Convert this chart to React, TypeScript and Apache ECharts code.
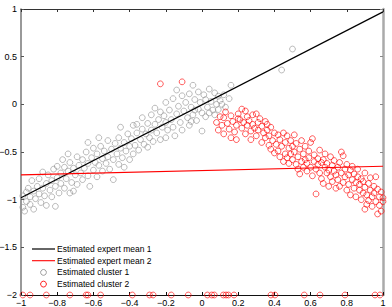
import React, { useEffect, useRef } from "react";
import * as echarts from "echarts";

const xTicks = [-1, -0.8, -0.6, -0.4, -0.2, 0, 0.2, 0.4, 0.6, 0.8, 1];
const yTicks = [-2, -1.5, -1, -0.5, 0, 0.5, 1];

const legendNames = [
  "Estimated expert mean 1",
  "Estimated expert mean 2",
  "Estimated cluster 1",
  "Estimated cluster 2",
];

const expertMean1: number[][] = [[-1, -0.98], [1, 0.97]];
const expertMean2: number[][] = [[-1, -0.74], [1, -0.65]];

const cluster1: number[][] = [
  [-0.99,-1.08],[-0.99,-0.96],[-0.98,-1.12],[-0.97,-0.92],[-0.97,-1.02],[-0.96,-0.88],[-0.95,-1.05],[-0.95,-0.97],[-0.94,-0.80],[-0.93,-0.91],
  [-0.93,-1.10],[-0.92,-0.99],[-0.91,-0.86],[-0.90,-0.94],[-0.90,-0.78],[-0.89,-1.03],[-0.88,-0.88],[-0.88,-0.71],[-0.87,-0.96],[-0.86,-0.83],
  [-0.86,-1.06],[-0.85,-0.74],[-0.84,-0.90],[-0.83,-0.80],[-0.83,-0.97],[-0.82,-0.68],[-0.81,-1.07],[-0.81,-0.86],[-0.80,-0.65],[-0.80,-0.77],
  [-0.79,-0.93],[-0.78,-0.72],[-0.78,-0.83],[-0.77,-0.58],[-0.76,-0.88],[-0.76,-0.66],[-0.75,-0.78],[-0.74,-0.70],[-0.74,-0.52],[-0.73,-0.93],
  [-0.73,-0.61],[-0.72,-0.82],[-0.71,-0.91],[-0.71,-0.67],[-0.70,-0.74],[-0.69,-0.55],[-0.69,-0.84],[-0.68,-0.64],[-0.67,-0.72],[-0.66,-0.79],
  [-0.66,-0.58],[-0.65,-0.67],[-0.64,-0.50],[-0.63,-0.75],[-0.63,-0.40],[-0.63,-0.62],[-0.62,-0.86],[-0.61,-0.56],[-0.60,-0.69],[-0.60,-0.46],
  [-0.59,-0.61],[-0.58,-0.76],[-0.58,-0.52],[-0.57,-0.64],[-0.57,-0.35],[-0.56,-0.44],[-0.55,-0.70],[-0.55,-0.57],[-0.54,-0.49],[-0.53,-0.62],
  [-0.52,-0.38],[-0.52,-0.55],[-0.51,-0.68],[-0.50,-0.47],[-0.49,-0.79],[-0.49,-0.58],[-0.48,-0.41],[-0.47,-0.52],[-0.46,-0.63],[-0.46,-0.35],
  [-0.45,-0.46],[-0.45,-0.24],[-0.44,-0.56],[-0.43,-0.40],[-0.43,-0.66],[-0.42,-0.49],[-0.41,-0.31],[-0.40,-0.44],[-0.40,-0.58],[-0.39,-0.36],
  [-0.38,-0.52],[-0.38,-0.22],[-0.37,-0.43],[-0.36,-0.30],[-0.36,-0.21],[-0.35,-0.48],[-0.34,-0.37],[-0.33,-0.26],[-0.33,-0.14],[-0.32,-0.42],
  [-0.31,-0.31],[-0.30,-0.20],[-0.30,-0.45],[-0.29,-0.35],[-0.28,-0.11],[-0.28,-0.27],[-0.27,-0.39],[-0.26,-0.04],[-0.26,-0.21],[-0.25,-0.30],
  [-0.24,-0.16],[-0.23,-0.08],[-0.23,-0.37],[-0.22,-0.24],[-0.21,-0.12],[-0.20,0.02],[-0.20,-0.35],[-0.20,-0.19],[-0.19,-0.27],[-0.18,-0.06],
  [-0.17,-0.16],[-0.16,0.06],[-0.16,-0.24],[-0.15,-0.33],[-0.14,0.15],[-0.14,-0.10],[-0.13,-0.02],[-0.12,-0.19],[-0.11,0.09],[-0.11,-0.27],
  [-0.10,-0.07],[-0.09,0.02],[-0.08,-0.14],[-0.07,0.11],[-0.07,-0.22],[-0.06,-0.03],[-0.06,-0.18],[-0.05,0.20],[-0.05,-0.11],[-0.04,0.05],
  [-0.04,-0.06],[-0.03,-0.17],[-0.02,0.13],[-0.02,-0.05],[-0.01,0.02],[0.00,-0.28],[0.00,-0.09],[0.01,0.10],[0.02,0.05],[0.02,-0.13],
  [0.03,-0.03],[0.04,0.16],[0.04,-0.09],[0.05,0.03],[0.06,-0.06],[0.07,0.12],[0.07,-0.11],[0.08,0.00],[0.09,0.085],[0.09,-0.055],
  [0.10,0.04],[0.11,0.00],[0.12,0.10],[0.13,-0.03],[0.15,0.06],[0.16,0.20],[0.44,0.36],[0.50,0.58],
];

const cluster2: number[][] = [
  [-0.23,0.215],[-0.11,0.236],
  [0.08,-0.19],[0.09,-0.27],[0.10,-0.13],[0.11,-0.22],[0.12,-0.14],[0.12,-0.31],[0.13,-0.08],[0.14,-0.20],[0.15,-0.26],[0.16,-0.35],
  [0.16,-0.12],[0.17,-0.18],[0.18,-0.29],[0.19,-0.37],[0.19,-0.22],[0.20,-0.10],[0.20,-0.15],
  [0.21,-0.16],[0.22,-0.25],[0.22,-0.05],[0.23,-0.19],[0.24,-0.07],[0.24,-0.31],[0.25,-0.13],[0.25,-0.22],[0.26,-0.17],[0.27,-0.28],
  [0.27,-0.37],[0.28,-0.11],[0.28,-0.21],[0.29,-0.25],[0.30,-0.10],[0.30,-0.33],[0.31,-0.19],[0.31,-0.27],[0.32,-0.15],[0.33,-0.40],
  [0.33,-0.23],[0.34,-0.30],[0.35,-0.18],[0.35,-0.35],
  [0.36,-0.21],[0.36,-0.27],[0.37,-0.43],[0.37,-0.33],[0.38,-0.24],[0.38,-0.47],[0.39,-0.38],[0.40,-0.30],[0.40,-0.51],[0.41,-0.42],
  [0.42,-0.32],[0.42,-0.49],[0.43,-0.37],[0.43,-0.55],[0.44,-0.44],[0.45,-0.30],[0.45,-0.60],[0.46,-0.40],[0.46,-0.52],[0.47,-0.56],
  [0.47,-0.33],[0.48,-0.46],[0.48,-0.62],[0.49,-0.38],[0.49,-0.52],[0.50,-0.58],[0.50,-0.44],
  [0.51,-0.32],[0.51,-0.50],[0.52,-0.63],[0.52,-0.41],[0.53,-0.55],[0.53,-0.68],[0.54,-0.73],[0.54,-0.47],[0.55,-0.60],[0.55,-0.38],
  [0.56,-0.52],[0.56,-0.66],[0.57,-0.58],[0.57,-0.44],[0.58,-0.70],[0.58,-0.62],[0.59,-0.49],[0.59,-0.56],[0.60,-0.66],[0.60,-0.40],
  [0.61,-0.36],[0.61,-0.75],[0.62,-0.60],[0.62,-0.53],[0.63,-0.94],[0.63,-0.68],[0.64,-0.57],[0.64,-0.63],[0.65,-0.72],[0.65,-0.48],
  [0.66,-0.61],[0.66,-0.78],[0.67,-0.58],[0.67,-0.83],[0.68,-0.66],[0.68,-0.52],[0.69,-0.72],[0.69,-0.62],[0.70,-0.86],[0.70,-0.69],
  [0.71,-0.55],[0.71,-0.76],[0.72,-0.64],[0.72,-0.81],[0.73,-0.70],[0.73,-0.59],[0.74,-0.74],[0.74,-0.88],[0.75,-0.66],[0.75,-0.79],
  [0.76,-0.86],[0.76,-0.61],[0.77,-0.72],[0.77,-0.50],[0.78,-0.54],[0.78,-0.82],[0.79,-0.68],[0.79,-0.76],[0.80,-0.63],[0.80,-0.90],
  [0.81,-0.74],[0.81,-0.84],[0.82,-0.69],[0.82,-0.95],[0.83,-0.65],[0.83,-0.79],[0.84,-0.88],[0.84,-0.73],[0.85,-0.97],[0.85,-0.82],
  [0.86,-0.76],[0.86,-0.68],[0.87,-0.90],[0.87,-0.84],[0.88,-0.78],[0.88,-1.00],[0.89,-0.81],[0.89,-0.93],[0.90,-1.10],[0.90,-0.72],
  [0.90,-0.87],[0.91,-1.05],[0.91,-0.95],[0.92,-0.83],[0.92,-1.01],[0.93,-0.90],[0.93,-0.77],[0.94,-0.97],[0.94,-1.07],[0.95,-0.86],
  [0.95,-0.93],[0.96,-0.76],[0.96,-1.02],[0.97,-1.15],[0.97,-0.89],[0.98,-0.97],[0.98,-1.06],[0.99,-0.92],[0.99,-1.12],[1.00,-1.02],
  [1.00,-0.98],
  [-0.99,-2],[-0.95,-2],[-0.86,-2],[-0.73,-2],[-0.64,-2],[-0.63,-2],[-0.56,-2],[-0.385,-2],[-0.29,-2],[-0.27,-2],
  [-0.17,-2],[-0.076,-2],[0.03,-2],[0.054,-2],[0.068,-2],[0.118,-2],[0.133,-2],[0.146,-2],[0.177,-2],[0.381,-2],
  [0.403,-2],[0.565,-2],[0.652,-2],[0.79,-2],[0.956,-2],[0.983,-2],
];

const FONT = "'Liberation Sans', Arial, Helvetica, sans-serif";
const GRAY = "#939393";
const RED = "#ff0000";
const fmt = (v: number) => String(+v.toFixed(2)).replace("-", "\u2212");

export default function App() {
  const ref = useRef<HTMLDivElement>(null);
  useEffect(() => {
    if (!ref.current) return;
    const chart = echarts.init(ref.current, undefined, { renderer: "svg" });
    const xBase = {
      type: "value" as const,
      min: xTicks[0],
      max: xTicks[xTicks.length - 1],
      interval: 0.2,
      splitLine: { show: false },
    };
    const yBase = {
      type: "value" as const,
      min: yTicks[0],
      max: yTicks[yTicks.length - 1],
      interval: 0.5,
      splitLine: { show: false },
    };
    const legendRows = [249, 260.7, 272.4, 284.1];
    const legendStyles = [
      { kind: "line", color: "#000", width: 1.2 },
      { kind: "line", color: RED, width: 1.1 },
      { kind: "circle", color: GRAY, width: 0.9 },
      { kind: "circle", color: RED, width: 0.9 },
    ];
    const legendGraphics: any[] = [];
    legendNames.forEach((name, i) => {
      const y = legendRows[i];
      const s = legendStyles[i];
      if (s.kind === "line") {
        legendGraphics.push({
          type: "line",
          shape: { x1: 32, y1: y, x2: 55, y2: y },
          style: { stroke: s.color, lineWidth: s.width },
          silent: true,
        });
      } else {
        legendGraphics.push({
          type: "circle",
          shape: { cx: 43.5, cy: y, r: 2.9 },
          style: { fill: "none", stroke: s.color, lineWidth: s.width },
          silent: true,
        });
      }
      legendGraphics.push({
        type: "text",
        x: 57,
        y,
        style: {
          text: name,
          fill: "#000",
          fontSize: 8.5,
          fontFamily: FONT,
          verticalAlign: "middle",
          align: "left",
        },
        silent: true,
      });
    });
    chart.setOption({
      animation: false,
      backgroundColor: "#ffffff",
      textStyle: { fontFamily: FONT },
      grid: { left: 21, right: 9, top: 9, bottom: 12, containLabel: false, outerBoundsMode: "none" },
      xAxis: [
        {
          ...xBase,
          position: "bottom",
          axisLine: { show: true, onZero: false, lineStyle: { color: "#111", width: 1.2 } },
          axisTick: { show: true, inside: true, length: 3, lineStyle: { color: "#111" } },
          axisLabel: { show: true, margin: 3, fontSize: 9, color: "#000", fontFamily: FONT, formatter: fmt },
        },
        {
          ...xBase,
          position: "top",
          axisLine: { show: true, onZero: false, lineStyle: { color: "#333", width: 1 } },
          axisTick: { show: true, inside: true, length: 3, lineStyle: { color: "#333" } },
          axisLabel: { show: false },
        },
      ],
      yAxis: [
        {
          ...yBase,
          position: "left",
          axisLine: { show: true, onZero: false, lineStyle: { color: "#777", width: 1.5 } },
          axisTick: { show: true, inside: true, length: 3, lineStyle: { color: "#555" } },
          axisLabel: { show: true, margin: 4, fontSize: 9, color: "#000", fontFamily: FONT, formatter: fmt },
        },
        {
          ...yBase,
          position: "right",
          axisLine: { show: true, onZero: false, lineStyle: { color: "#aaa", width: 2.5 } },
          axisTick: { show: true, inside: true, length: 3, lineStyle: { color: "#888" } },
          axisLabel: { show: false },
        },
      ],
      graphic: legendGraphics,
      series: [
        {
          name: legendNames[0],
          type: "line",
          data: expertMean1,
          symbol: "none",
          lineStyle: { color: "#000", width: 1.2 },
          itemStyle: { color: "#000" },
          z: 3,
        },
        {
          name: legendNames[1],
          type: "line",
          data: expertMean2,
          symbol: "none",
          lineStyle: { color: RED, width: 1.1 },
          itemStyle: { color: RED },
          z: 3,
        },
        {
          name: legendNames[2],
          type: "scatter",
          data: cluster1,
          symbol: "circle",
          symbolSize: 5.8,
          clip: false,
          itemStyle: { color: "rgba(0,0,0,0)", borderColor: GRAY, borderWidth: 0.8 },
          z: 2,
        },
        {
          name: legendNames[3],
          type: "scatter",
          data: cluster2,
          symbol: "circle",
          symbolSize: 5.8,
          clip: false,
          itemStyle: { color: "rgba(0,0,0,0)", borderColor: RED, borderWidth: 0.8 },
          z: 2,
        },
      ],
    });
    return () => chart.dispose();
  }, []);
  return (
    <div
      ref={ref}
      style={{ position: "fixed", left: 0, top: 0, width: 392, height: 307, background: "#fff" }}
    />
  );
}
